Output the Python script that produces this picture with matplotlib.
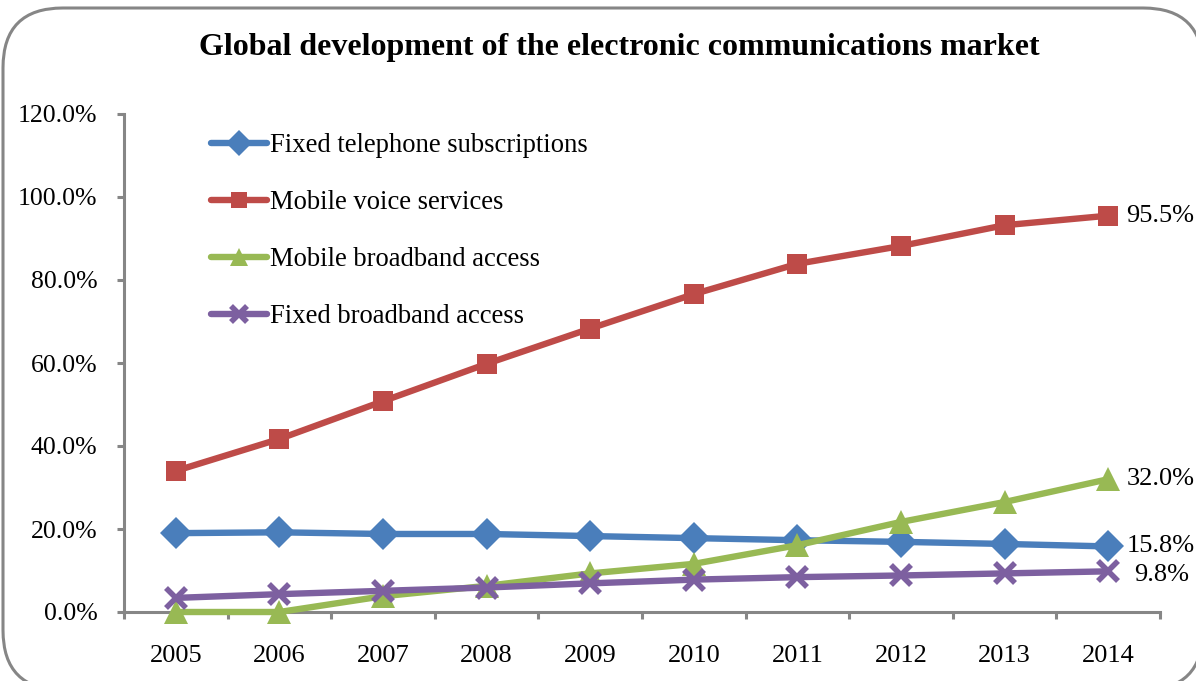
import matplotlib
matplotlib.use("Agg")
import matplotlib.pyplot as plt
from matplotlib.patches import FancyBboxPatch
from matplotlib.ticker import FuncFormatter, MultipleLocator

plt.rcParams['font.family'] = ['Liberation Serif', 'DejaVu Serif']

years = ['2005', '2006', '2007', '2008', '2009', '2010', '2011', '2012', '2013', '2014']
fixed_telephone = [19.0, 19.2, 18.8, 18.8, 18.3, 17.8, 17.3, 16.9, 16.4, 15.8]
mobile_voice = [34.0, 41.7, 50.8, 59.8, 68.3, 76.6, 83.9, 88.2, 93.2, 95.5]
mobile_broadband = [0.0, 0.0, 3.8, 6.3, 9.3, 11.6, 16.1, 21.7, 26.5, 32.0]
fixed_broadband = [3.4, 4.3, 5.1, 5.9, 6.9, 7.8, 8.4, 8.8, 9.3, 9.8]

series = [
    ('Fixed telephone subscriptions', fixed_telephone, '#4A7EBB', 'D', 16),
    ('Mobile voice services', mobile_voice, '#BE4B48', 's', 15),
    ('Mobile broadband access', mobile_broadband, '#98B954', '^', 17),
    ('Fixed broadband access', fixed_broadband, '#7D60A0', 'x', 15),
]

W, H = 1196, 681
fig = plt.figure(figsize=(W / 100, H / 100), dpi=100)

# rounded chart-area border
border = FancyBboxPatch((3 / W, 1 - 690 / H), 1200 / W, 682 / H,
                        boxstyle="round,pad=0,rounding_size=0.05",
                        transform=fig.transFigure, facecolor='white',
                        edgecolor='#868686', linewidth=2.2, zorder=-1,
                        mutation_aspect=W / H)
fig.patches.append(border)

ax = fig.add_axes([124 / W, 1 - 612 / H, (1160 - 124) / W, (612 - 114) / H])
ax.set_facecolor('none')

x = list(range(len(years)))
for name, vals, color, marker, ms in series:
    kw = dict(markeredgewidth=4) if marker == 'x' else dict(markeredgewidth=0)
    ax.plot(x, vals, color=color, linewidth=4.6, marker=marker, markersize=ms,
            markerfacecolor=color, markeredgecolor=color, label=name,
            solid_capstyle='round', clip_on=False, zorder=3, **kw)

ax.set_xlim(-0.5, len(years) - 0.5)
ax.set_ylim(0, 120)
ax.yaxis.set_major_locator(MultipleLocator(20))
ax.yaxis.set_major_formatter(FuncFormatter(lambda v, p: f'{v:.1f}%'))
ax.set_xticks(x)
ax.set_xticklabels(years)
ax.set_xticks([i - 0.5 for i in range(len(years) + 1)], minor=True)

for s in ['top', 'right']:
    ax.spines[s].set_visible(False)
for s in ['left', 'bottom']:
    ax.spines[s].set_color('#868686')
    ax.spines[s].set_linewidth(2.2)

ax.tick_params(axis='y', which='major', length=5, width=2.2, color='#868686',
               labelsize=18.5, pad=14, direction='out')
ax.tick_params(axis='x', which='major', length=0, labelsize=19, pad=24)
ax.tick_params(axis='x', which='minor', length=5, width=2.2, color='#868686',
               direction='out')

# end-of-series value labels
end_labels = [
    (mobile_voice[-1], 13, 0),
    (mobile_broadband[-1], 13, 0),
    (fixed_telephone[-1], 13, 0),
    (fixed_broadband[-1], 19, -3),
]
for v, dx, dy in end_labels:
    ax.annotate(f'{v:.1f}%', xy=(x[-1], v), xytext=(dx, dy),
                textcoords='offset points', ha='left', va='center',
                fontsize=19, annotation_clip=False)

leg = ax.legend(loc='upper left', bbox_to_anchor=(211 / W, 1 - 133 / H),
                bbox_transform=fig.transFigure, frameon=False, fontsize=19.2,
                handlelength=2.1, handletextpad=0.1, labelspacing=1.2,
                borderaxespad=0, borderpad=0, markerscale=0.8)
for line in leg.get_lines():
    line.set_linewidth(4.6)

fig.text(619 / W, 1 - 47 / H,
         'Global development of the electronic communications market',
         ha='center', va='center', fontsize=23, fontweight='bold')

fig.savefig('out.png', dpi=100)
